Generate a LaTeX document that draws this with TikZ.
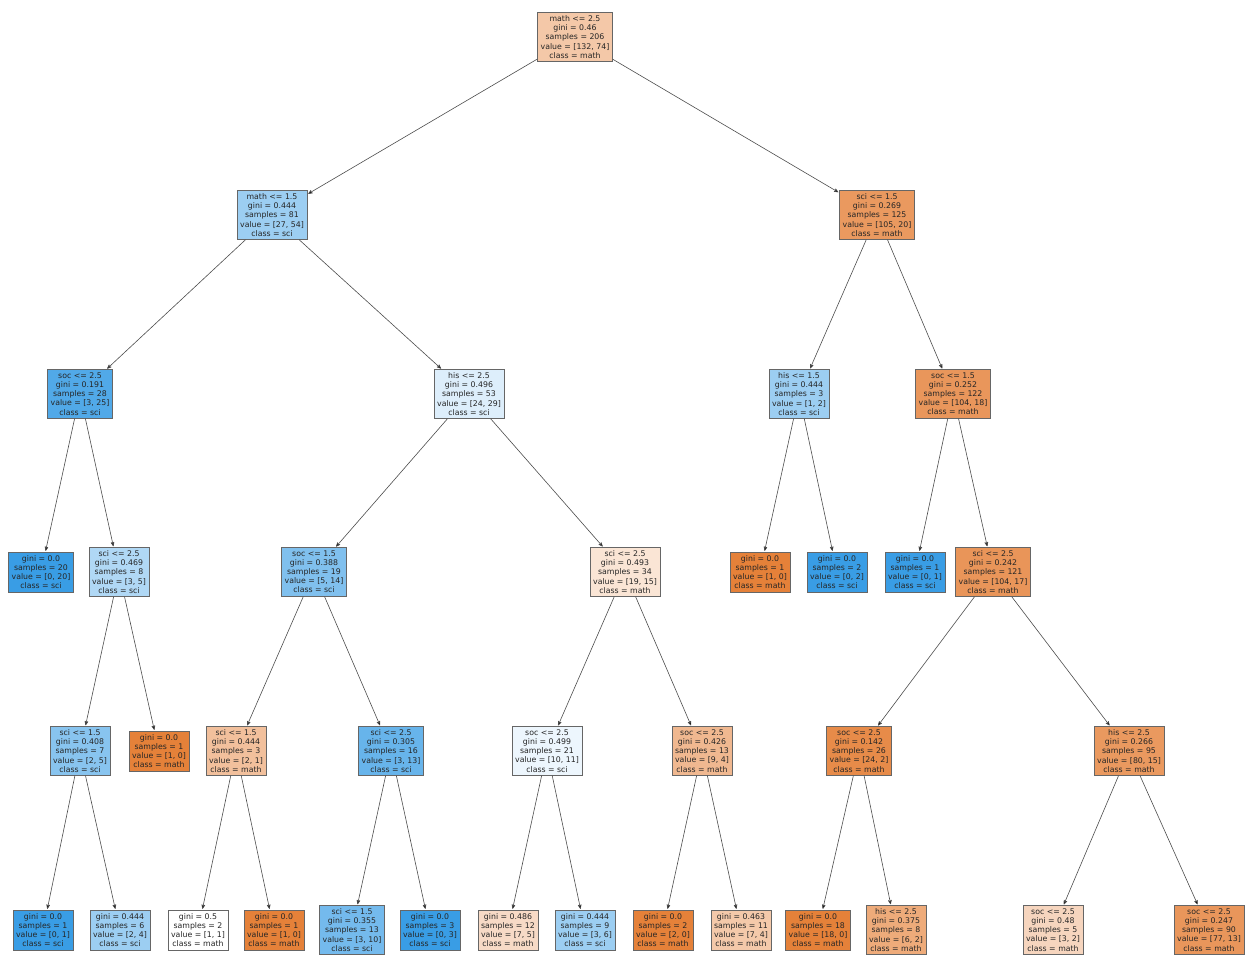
\documentclass[tikz,border=0pt]{standalone}
\usepackage{fontspec}
\setmainfont{DejaVu Sans}
\usetikzlibrary{arrows}
\definecolor{mathc}{RGB}{229,129,57}
\definecolor{scic}{RGB}{57,157,229}
\tikzset{
  box/.style={draw=black!60,line width=0.7pt,align=center,inner sep=3.2pt,
    font=\fontsize{7.8}{9.1}\selectfont,text=black!85},
  m/.style={box,fill=mathc!#1!white},
  s/.style={box,fill=scic!#1!white}
}

\begin{document}
\begin{tikzpicture}[>=stealth',shorten >=1pt,x=1pt,y=-1pt]
    \useasboundingbox (0,0) rectangle (1248,955);

    % root and first split
    \node[m=44] (t)   at (575,37)  {math <= 2.5\\gini = 0.46\\samples = 206\\value = [132, 74]\\class = math};
    \node[s=50] (tL)  at (272,215) {math <= 1.5\\gini = 0.444\\samples = 81\\value = [27, 54]\\class = sci};
    \node[m=81] (tR)  at (877,215) {sci <= 1.5\\gini = 0.269\\samples = 125\\value = [105, 20]\\class = math};

    % depth 2
    \node[s=88] (tLL) at (80,394)  {soc <= 2.5\\gini = 0.191\\samples = 28\\value = [3, 25]\\class = sci};
    \node[s=17] (tLR) at (469,394) {his <= 2.5\\gini = 0.496\\samples = 53\\value = [24, 29]\\class = sci};
    \node[s=50] (tRL) at (799,394) {his <= 1.5\\gini = 0.444\\samples = 3\\value = [1, 2]\\class = sci};
    \node[m=83] (tRR) at (953,394) {soc <= 1.5\\gini = 0.252\\samples = 122\\value = [104, 18]\\class = math};

    % depth 3
    \node[s=100] (tLLL) at (41,572)  {gini = 0.0\\samples = 20\\value = [0, 20]\\class = sci};
    \node[s=40]  (tLLR) at (119,572) {sci <= 2.5\\gini = 0.469\\samples = 8\\value = [3, 5]\\class = sci};
    \node[s=64]  (tLRL) at (314,572) {soc <= 1.5\\gini = 0.388\\samples = 19\\value = [5, 14]\\class = sci};
    \node[m=21]  (tLRR) at (625,572) {sci <= 2.5\\gini = 0.493\\samples = 34\\value = [19, 15]\\class = math};
    \node[m=100] (tRLL) at (760,572) {gini = 0.0\\samples = 1\\value = [1, 0]\\class = math};
    \node[s=100] (tRLR) at (837,572) {gini = 0.0\\samples = 2\\value = [0, 2]\\class = sci};
    \node[s=100] (tRRL) at (915,572) {gini = 0.0\\samples = 1\\value = [0, 1]\\class = sci};
    \node[m=84]  (tRRR) at (993,572) {sci <= 2.5\\gini = 0.242\\samples = 121\\value = [104, 17]\\class = math};

    % depth 4
    \node[s=60]  (tLLRL) at (80,751)   {sci <= 1.5\\gini = 0.408\\samples = 7\\value = [2, 5]\\class = sci};
    \node[m=100] (tLLRR) at (159,751)  {gini = 0.0\\samples = 1\\value = [1, 0]\\class = math};
    \node[m=50]  (tLRLL) at (236,751)  {sci <= 1.5\\gini = 0.444\\samples = 3\\value = [2, 1]\\class = math};
    \node[s=77]  (tLRLR) at (391,751)  {sci <= 2.5\\gini = 0.305\\samples = 16\\value = [3, 13]\\class = sci};
    \node[s=9]   (tLRRL) at (547,751)  {soc <= 2.5\\gini = 0.499\\samples = 21\\value = [10, 11]\\class = sci};
    \node[m=56]  (tLRRR) at (702,751)  {soc <= 2.5\\gini = 0.426\\samples = 13\\value = [9, 4]\\class = math};
    \node[m=92]  (tRRRL) at (859,751)  {soc <= 2.5\\gini = 0.142\\samples = 26\\value = [24, 2]\\class = math};
    \node[m=81]  (tRRRR) at (1129,751) {his <= 2.5\\gini = 0.266\\samples = 95\\value = [80, 15]\\class = math};

    % depth 5
    \node[s=100] (tLLRLL) at (43,930)   {gini = 0.0\\samples = 1\\value = [0, 1]\\class = sci};
    \node[s=50]  (tLLRLR) at (120,930)  {gini = 0.444\\samples = 6\\value = [2, 4]\\class = sci};
    \node[m=0]   (tLRLLL) at (198,930)  {gini = 0.5\\samples = 2\\value = [1, 1]\\class = math};
    \node[m=100] (tLRLLR) at (274,930)  {gini = 0.0\\samples = 1\\value = [1, 0]\\class = math};
    \node[s=70]  (tLRLRL) at (352,930)  {sci <= 1.5\\gini = 0.355\\samples = 13\\value = [3, 10]\\class = sci};
    \node[s=100] (tLRLRR) at (430,930)  {gini = 0.0\\samples = 3\\value = [0, 3]\\class = sci};
    \node[m=29]  (tLRRLL) at (508,930)  {gini = 0.486\\samples = 12\\value = [7, 5]\\class = math};
    \node[s=50]  (tLRRLR) at (585,930)  {gini = 0.444\\samples = 9\\value = [3, 6]\\class = sci};
    \node[m=100] (tLRRRL) at (663,930)  {gini = 0.0\\samples = 2\\value = [2, 0]\\class = math};
    \node[m=43]  (tLRRRR) at (741,930)  {gini = 0.463\\samples = 11\\value = [7, 4]\\class = math};
    \node[m=100] (tRRRLL) at (818,930)  {gini = 0.0\\samples = 18\\value = [18, 0]\\class = math};
    \node[m=67]  (tRRRLR) at (896,930)  {his <= 2.5\\gini = 0.375\\samples = 8\\value = [6, 2]\\class = math};
    \node[m=33]  (tRRRRL) at (1053,930) {soc <= 2.5\\gini = 0.48\\samples = 5\\value = [3, 2]\\class = math};
    \node[m=83]  (tRRRRR) at (1209,930) {soc <= 2.5\\gini = 0.247\\samples = 90\\value = [77, 13]\\class = math};

    \path[->,draw=black!70,line width=0.6pt]
      (t)
        edge (tL)
        edge (tR)
      (tL)
        edge (tLL)
        edge (tLR)
      (tR)
        edge (tRL)
        edge (tRR)
      (tLL)
        edge (tLLL)
        edge (tLLR)
      (tLR)
        edge (tLRL)
        edge (tLRR)
      (tRL)
        edge (tRLL)
        edge (tRLR)
      (tRR)
        edge (tRRL)
        edge (tRRR)
      (tLLR)
        edge (tLLRL)
        edge (tLLRR)
      (tLRL)
        edge (tLRLL)
        edge (tLRLR)
      (tLRR)
        edge (tLRRL)
        edge (tLRRR)
      (tRRR)
        edge (tRRRL)
        edge (tRRRR)
      (tLLRL)
        edge (tLLRLL)
        edge (tLLRLR)
      (tLRLL)
        edge (tLRLLL)
        edge (tLRLLR)
      (tLRLR)
        edge (tLRLRL)
        edge (tLRLRR)
      (tLRRL)
        edge (tLRRLL)
        edge (tLRRLR)
      (tLRRR)
        edge (tLRRRL)
        edge (tLRRRR)
      (tRRRL)
        edge (tRRRLL)
        edge (tRRRLR)
      (tRRRR)
        edge (tRRRRL)
        edge (tRRRRR)
    ;
\end{tikzpicture}
\end{document}
